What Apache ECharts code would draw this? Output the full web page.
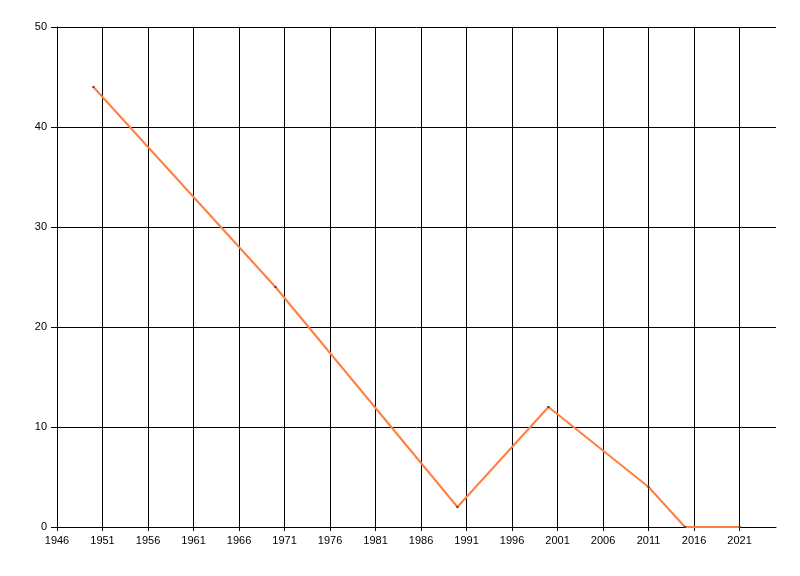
<!DOCTYPE html>
<html><head><meta charset="utf-8">
<script src="https://cdn.jsdelivr.net/npm/echarts@6/dist/echarts.min.js"></script>
<style>html,body{margin:0;padding:0;background:#fff}#c{width:800px;height:576px}</style>
</head><body><div id="c"></div>
<script>
var years = [1950, 1970, 1990, 2000, 2011, 2015, 2021];
var values = [44, 24, 2, 12, 4, 0, 0];
var xTicks = [1946, 1951, 1956, 1961, 1966, 1971, 1976, 1981, 1986, 1991, 1996, 2001, 2006, 2011, 2016, 2021];
var yTicks = [0, 10, 20, 30, 40, 50];

var chart = echarts.init(document.getElementById('c'), null, {renderer: 'canvas'});
var font = {fontFamily: 'Liberation Sans, Arial, sans-serif', fontSize: 11, color: '#000'};
chart.setOption({
  animation: false,
  backgroundColor: '#fff',
  grid: {left: 57, right: 24, top: 27, bottom: 49, containLabel: false},
  xAxis: {
    type: 'value', min: 1946, max: 2025, interval: 5,
    axisLine: {show: true, lineStyle: {color: '#000', width: 1}},
    axisTick: {show: true, length: 4, lineStyle: {color: '#000'}},
    axisLabel: Object.assign({margin: 8, showMaxLabel: false, formatter: function(v){return xTicks.indexOf(v) >= 0 ? String(v) : '';}}, font),
    splitLine: {show: true, showMaxLine: false, lineStyle: {color: '#000', width: 1}}
  },
  yAxis: {
    type: 'value', min: 0, max: 50, interval: 10,
    axisLine: {show: true, lineStyle: {color: '#000', width: 1}},
    axisTick: {show: true, length: 6, lineStyle: {color: '#000'}},
    axisLabel: Object.assign({margin: 10, formatter: function(v){return yTicks.indexOf(v) >= 0 ? String(v) : '';}}, font),
    splitLine: {show: true, lineStyle: {color: '#000', width: 1}}
  },
  series: [{
    type: 'line',
    data: years.map(function(y, i){ return [y, values[i]]; }),
    symbol: 'rect', symbolSize: 2,
    itemStyle: {color: '#404040'},
    lineStyle: {color: '#FF7F40', width: 2},
    z: 5
  }]
});
</script></body></html>
